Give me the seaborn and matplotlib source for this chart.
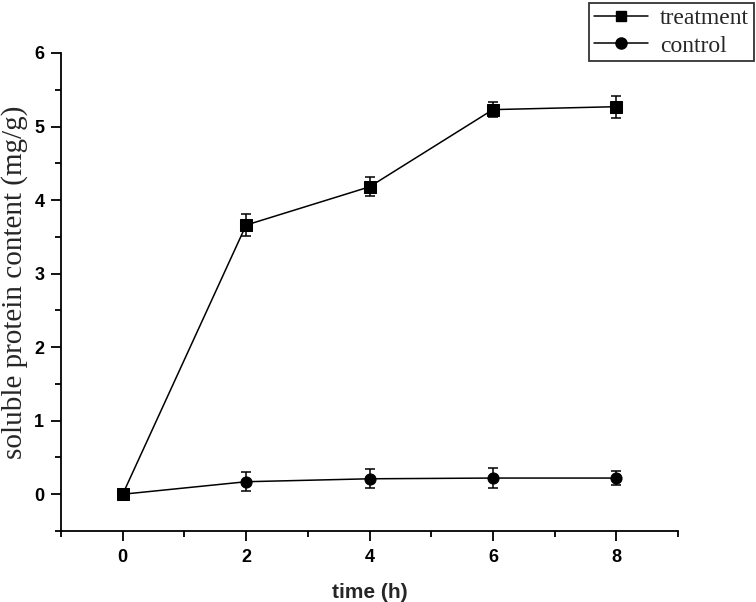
import numpy as np
import pandas as pd
import matplotlib
matplotlib.use("Agg")
import matplotlib.pyplot as plt
import seaborn as sns
from matplotlib.ticker import MultipleLocator
from matplotlib.lines import Line2D

time_h = [0, 2, 4, 6, 8]
treatment = [0.0, 3.66, 4.18, 5.23, 5.27]
treatment_err = [0.0, 0.15, 0.13, 0.10, 0.15]
control = [0.0, 0.17, 0.21, 0.22, 0.22]
control_err = [0.0, 0.13, 0.13, 0.13, 0.10]
series_names = ["treatment", "control"]

df = pd.DataFrame({
    "time": time_h * 2,
    "value": treatment + control,
    "series": [series_names[0]] * 5 + [series_names[1]] * 5,
})

sns.set_style("ticks")
fig = plt.figure(figsize=(7.56, 6.02), dpi=100)
ax = fig.add_axes([61/756, 1 - 531/602, (678 - 61)/756, (531 - 53)/602])

sns.lineplot(data=df, x="time", y="value", hue="series", style="series",
             markers={"treatment": "s", "control": "o"}, dashes=False,
             palette={"treatment": "black", "control": "black"},
             markersize=8, linewidth=1.1, markeredgecolor="black",
             ax=ax, legend=False)
ax.errorbar(time_h, treatment, yerr=treatment_err, fmt="none", ecolor="black",
            elinewidth=1.1, capsize=3.5, capthick=1.1)
ax.errorbar(time_h, control, yerr=control_err, fmt="none", ecolor="black",
            elinewidth=1.1, capsize=3.5, capthick=1.1)

ax.set_xlim(-1, 9)
ax.set_ylim(-0.5, 6)
ax.xaxis.set_major_locator(MultipleLocator(2))
ax.xaxis.set_minor_locator(MultipleLocator(1))
ax.yaxis.set_major_locator(MultipleLocator(1))
ax.yaxis.set_minor_locator(MultipleLocator(0.5))
ax.tick_params(which="major", length=7, width=1.3, direction="out", colors="black")
ax.tick_params(which="minor", length=4, width=1.3, direction="out", colors="black")
ax.tick_params(axis="y", which="major", pad=5)
ax.tick_params(axis="x", which="major", pad=6)
for lab in ax.get_xticklabels() + ax.get_yticklabels():
    lab.set_fontfamily("Liberation Sans")
    lab.set_fontweight("bold")
    lab.set_fontsize(13)
for s in ["top", "right"]:
    ax.spines[s].set_visible(False)
for s in ["left", "bottom"]:
    ax.spines[s].set_linewidth(1.3)
    ax.spines[s].set_color("black")

ax.set_xlabel("time (h)", fontfamily="Liberation Sans", fontweight="bold",
              fontsize=15, labelpad=12)
ax.set_ylabel("soluble protein content (mg/g)", fontfamily="Liberation Serif",
              fontsize=21)
ax.yaxis.set_label_coords(-0.054, 0.52)

handles = [Line2D([], [], color="black", marker="s", markersize=7, lw=1.1),
           Line2D([], [], color="black", marker="o", markersize=8, lw=1.1)]
leg = fig.legend(handles, series_names, loc="upper right",
                 bbox_to_anchor=(754/756, 1 - 3/602),
                 prop={"family": "Liberation Serif", "size": 17},
                 frameon=True, fancybox=False, edgecolor="black",
                 borderpad=0.2, handlelength=2.3, labelspacing=0.25,
                 handletextpad=0.5, borderaxespad=0)
leg.get_frame().set_linewidth(1.3)

fig.savefig("out.png", dpi=100)
